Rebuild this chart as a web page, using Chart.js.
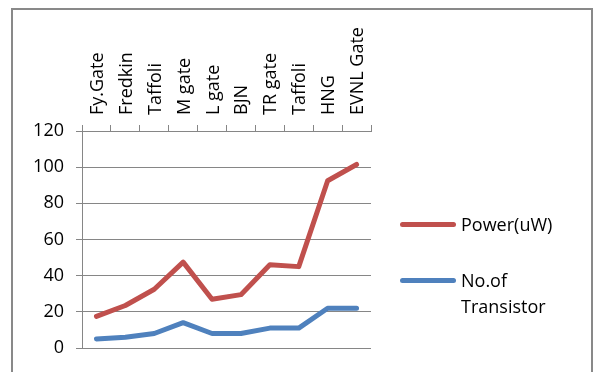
<!DOCTYPE html>
<html><head><meta charset="utf-8">
<script src="https://cdn.jsdelivr.net/npm/chart.js@4"></script>
<style>
html,body{margin:0;padding:0;background:#fff;}
#wrap{position:relative;width:595px;height:372px;overflow:hidden;background:#fff;}
#frame{position:absolute;left:11px;top:8px;width:582px;height:400px;border:2px solid #898989;box-sizing:border-box;}
canvas{position:absolute;left:0;top:0;}
.legtxt{position:absolute;font-family:"Open Sans",sans-serif;font-size:18px;color:#000;line-height:26px;white-space:nowrap;}
.sw{position:absolute;height:5px;border-radius:3px;width:56px;}
</style></head>
<body><div id="wrap"><div id="frame"></div><canvas id="c" width="595" height="372"></canvas><div id="legend"></div></div>
<script>
const categories = ["Fy.Gate","Fredkin","Taffoli","M gate","L gate","BJN","TR gate","Taffoli","HNG","EVNL Gate"];
const powerValues = [17.5, 23.5, 32.5, 47.5, 27, 29.5, 46, 45, 92.5, 101.5];
const transistorValues = [5, 6, 8, 14, 8, 8, 11, 11, 22, 22];
const seriesNames = ["Power(uW)", ["No.of", "Transistor"]];
const seriesColors = ["#C0504D", "#4F81BD"];
const yMin = 0, yMax = 120, yStep = 20;

const FONT = {family: '"Open Sans", sans-serif', size: 18};
const GRID = '#868686';

const chart = new Chart(document.getElementById('c'), {
  type: 'line',
  data: {
    labels: categories,
    datasets: [
      {label: "Power(uW)", data: powerValues, borderColor: seriesColors[0], backgroundColor: seriesColors[0]},
      {label: "No.of Transistor", data: transistorValues, borderColor: seriesColors[1], backgroundColor: seriesColors[1]}
    ].map(d => Object.assign(d, {borderWidth: 5, pointRadius: 0, tension: 0, fill: false, borderCapStyle: 'round', borderJoinStyle: 'round'}))
  },
  options: {
    responsive: false,
    animation: false,
    devicePixelRatio: 1,
    layout: {padding: {left: 0, top: 0, right: 224, bottom: 24}},
    plugins: {legend: {display: false}, tooltip: {enabled: false}},
    scales: {
      x: {
        type: 'category',
        position: 'top',
        offset: true,
        grid: {display: true, drawOnChartArea: false, drawTicks: true, tickLength: 6, color: GRID, offset: true},
        border: {display: true, color: GRID, width: 1},
        ticks: {minRotation: 90, maxRotation: 90, autoSkip: false, font: FONT, color: '#000', padding: 10, labelOffset: 23},
        afterFit: s => { s.height = 131; }
      },
      y: {
        min: yMin, max: yMax,
        ticks: {stepSize: yStep, font: FONT, color: '#000', padding: 12},
        grid: {color: GRID, tickLength: 6, drawTicks: true},
        border: {display: true, color: GRID, width: 1},
        afterFit: s => { s.width = 82; }
      }
    }
  }
});

// HTML legend built from the series arrays
const leg = document.getElementById('legend');
const legY = [224, 280];
seriesNames.forEach((name, i) => {
  const sw = document.createElement('div');
  sw.className = 'sw';
  sw.style.background = seriesColors[i];
  sw.style.left = '400px';
  sw.style.top = (legY[i] - 2.5) + 'px';
  leg.appendChild(sw);
  const t = document.createElement('div');
  t.className = 'legtxt';
  t.style.left = '461px';
  t.style.top = (legY[i] - 13) + 'px';
  t.innerHTML = (Array.isArray(name) ? name : [name]).join('<br>');
  leg.appendChild(t);
});
</script>
</body></html>
